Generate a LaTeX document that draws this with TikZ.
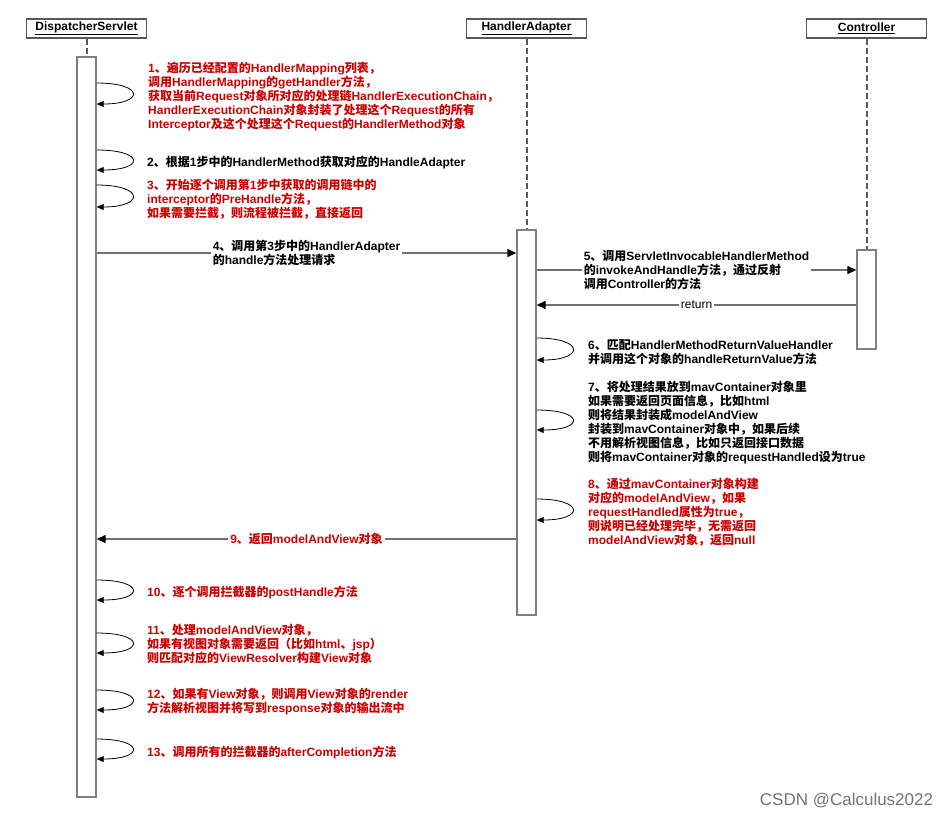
\documentclass[tikz,border=0pt]{standalone}
\usepackage{fontspec}
\setmainfont{Liberation Sans}
\newfontfamily\cjkfont{Noto Sans CJK SC}
% switch to the CJK font for Chinese characters and punctuation
\XeTeXinterchartokenstate=1
\newXeTeXintercharclass\cjkclass
\newcount\cjkc
\cjkc="3000 \loop\XeTeXcharclass\cjkc=\cjkclass\advance\cjkc by 1 \ifnum\cjkc<"3040 \repeat
\cjkc="4E00 \loop\XeTeXcharclass\cjkc=\cjkclass\advance\cjkc by 1 \ifnum\cjkc<"A000 \repeat
\cjkc="FF00 \loop\XeTeXcharclass\cjkc=\cjkclass\advance\cjkc by 1 \ifnum\cjkc<"FFF0 \repeat
\XeTeXinterchartoks 0 \cjkclass={\begingroup\cjkfont}
\XeTeXinterchartoks 4095 \cjkclass={\begingroup\cjkfont}
\XeTeXinterchartoks \cjkclass 0={\endgroup}
\XeTeXinterchartoks \cjkclass 4095={\endgroup}
\usetikzlibrary{arrows.meta, positioning}
\definecolor{notered}{RGB}{204,0,0}
\definecolor{linegray}{RGB}{112,112,112}

\begin{document}
\begin{tikzpicture}[x=1pt,y=-1pt,node font=\fontsize{12}{14}\selectfont\bfseries]
	\tikzstyle{actor}=[draw=black!65,line width=1.2pt,minimum width=120pt,minimum height=19pt,inner sep=0pt]
	\tikzstyle{bar}=[draw=black!50,line width=1.3pt,fill=white,minimum width=19pt,inner sep=0pt]
	\tikzstyle{lifeline}=[black!65,line width=2pt,dash pattern=on 6pt off 3pt]
	\tikzstyle{selfloop}=[line width=0.8pt,-{Triangle[length=7pt,width=6pt]},every edge/.style={draw=black,out=0,in=0,distance=48pt}]
	\tikzstyle{msg}=[line width=1.3pt,-{Triangle[length=9pt,width=8pt,black]},every edge/.style={draw=linegray}]
	\tikzstyle{lbl}=[fill=white,inner sep=2pt,align=left,text=black]
	\tikzstyle{note}=[anchor=north west,inner sep=0pt,align=left]
	\useasboundingbox (0,0) rectangle (949,817);
	
	\node[actor] (DS) at (86.5,28.5) {\underline{DispatcherServlet}};
	\node[actor] (HA) at (526.5,28.5) {\underline{HandlerAdapter}};
	\node[actor] (CT) at (866.5,28.5) {\underline{Controller}};
	
	\node[bar,minimum height=740pt] (DSbar) at (86.5,427) {};
	\node[bar,minimum height=385pt] (HAbar) at (526.5,422.5) {};
	\node[bar,minimum height=99pt]  (CTbar) at (866.5,299.5) {};
	
	\draw[lifeline] (DS) -- (DSbar) (HA) -- (HAbar) (CT) -- (CTbar);
	
	\path[selfloop]
	(DSbar.east |- 0,83) edge (DSbar.east |- 0,104)
	(DSbar.east |- 0,150) edge (DSbar.east |- 0,170)
	(DSbar.east |- 0,185) edge (DSbar.east |- 0,207)
	(HAbar.east |- 0,338) edge (HAbar.east |- 0,360)
	(HAbar.east |- 0,410) edge (HAbar.east |- 0,430)
	(HAbar.east |- 0,499) edge (HAbar.east |- 0,520)
	(DSbar.east |- 0,580) edge (DSbar.east |- 0,600)
	(DSbar.east |- 0,633) edge (DSbar.east |- 0,653)
	(DSbar.east |- 0,690) edge (DSbar.east |- 0,710)
	(DSbar.east |- 0,739) edge (DSbar.east |- 0,759);
	
	\path[msg]
	(DSbar.east |- 0,253) edge node[lbl] {4、调用第3步中的HandlerAdapter\\的handle方法处理请求} (HAbar.west |- 0,253)
	(HAbar.east |- 0,270) edge node[lbl] {5、调用ServletInvocableHandlerMethod\\的invokeAndHandle方法，通过反射\\调用Controller的方法} (CTbar.west |- 0,270)
	(CTbar.west |- 0,305) edge node[lbl,font=\mdseries] {return} (HAbar.east |- 0,305)
	(HAbar.west |- 0,539) edge node[lbl,text=notered] {9、返回modelAndView对象} (DSbar.east |- 0,539);
	
	\node[note,text=notered] (n1)  at (148,62)  {1、遍历已经配置的HandlerMapping列表，\\调用HandlerMapping的getHandler方法，\\获取当前Request对象所对应的处理链HandlerExecutionChain，\\HandlerExecutionChain对象封装了处理这个Request的所有\\Interceptor及这个处理这个Request的HandlerMethod对象};
	\node[note]               (n2)  at (147,156) {2、根据1步中的HandlerMethod获取对应的HandleAdapter};
	\node[note,text=notered] (n3)  at (147,179) {3、开始逐个调用第1步中获取的调用链中的\\interceptor的PreHandle方法，\\如果需要拦截，则流程被拦截，直接返回};
	\node[note]               (n6)  at (588,339) {6、匹配HandlerMethodReturnValueHandler\\并调用这个对象的handleReturnValue方法};
	\node[note]               (n7)  at (588,381) {7、将处理结果放到mavContainer对象里\\如果需要返回页面信息，比如html\\则将结果封装成modelAndView\\封装到mavContainer对象中，如果后续\\不用解析视图信息，比如只返回接口数据\\则将mavContainer对象的requestHandled设为true};
	\node[note,text=notered] (n8)  at (588,478) {8、通过mavContainer对象构建\\对应的modelAndView，如果\\requestHandled属性为true，\\则说明已经处理完毕，无需返回\\modelAndView对象，返回null};
	\node[note,text=notered] (n10) at (147,586) {10、逐个调用拦截器的postHandle方法};
	\node[note,text=notered] (n11) at (147,624) {11、处理modelAndView对象，\\如果有视图对象需要返回（比如html、jsp）\\则匹配对应的ViewResolver构建View对象};
	\node[note,text=notered] (n12) at (147,688) {12、如果有View对象，则调用View对象的render\\方法解析视图并将写到response对象的输出流中};
	\node[note,text=notered] (n13) at (147,746) {13、调用所有的拦截器的afterCompletion方法};
	
	\node[text=black!55,font=\fontsize{17}{20}\selectfont\mdseries] (mark) at (846.5,800) {CSDN @Calculus2022};
\end{tikzpicture}
\end{document}
